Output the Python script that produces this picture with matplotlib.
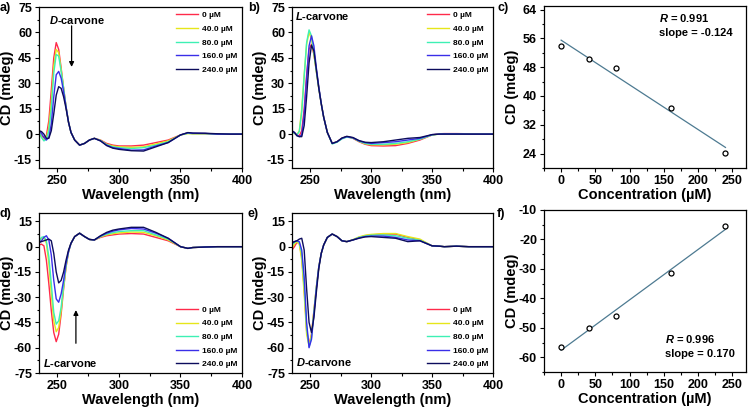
import numpy as np
import matplotlib
matplotlib.use('Agg')
import matplotlib.pyplot as plt
from matplotlib.ticker import MultipleLocator

plt.rcParams['font.family'] = ['Liberation Sans', 'DejaVu Sans']
plt.rcParams['font.weight'] = 'bold'
plt.rcParams['axes.unicode_minus'] = False
plt.rcParams['mathtext.fontset'] = 'custom'
plt.rcParams['mathtext.it'] = 'Liberation Sans:bold:italic'
plt.rcParams['mathtext.rm'] = 'Liberation Sans:bold'

# wavelength grid (nm)
wl = [235, 237, 239, 241, 243, 245, 247, 249, 251, 253, 255, 257, 259, 261, 264, 268,
      272, 276, 280, 285, 290, 295, 300, 310, 320, 330, 340, 350, 356, 360, 370, 380, 390, 400]

labels = ['0 µM', '40.0 µM', '80.0 µM', '160.0 µM', '240.0 µM']
colors = ['#ff2a4a', '#e6e61a', '#3ef0b4', '#3a2ee8', '#0c0c5c']

# panel a: D-carvone
a_0 = [1.5, -1, -2, -1, 8, 26, 45, 54, 50, 39, 27, 16, 7, 1, -3.5, -6.5, -5.5, -3.5, -2.5, -3.5, -5.5, -6.5, -7, -7, -6.5, -5, -3.5, -0.5, 0.6, 0.3, 0.3, 0, 0, 0]
a_40 = [1.5, -1.5, -3.5, -2.5, 4, 19, 40, 50, 48, 38, 27, 16, 7, 1, -3.5, -6.5, -5.5, -3.5, -2.5, -3.7, -6, -7, -7.5, -7.8, -7.5, -5.8, -4, -0.5, 0.3, 0.2, 0.2, 0, 0, 0]
a_80 = [1.5, -2, -4, -3, 2, 15, 36, 47, 46, 37, 27, 16, 7, 1, -3.5, -6.5, -5.5, -3.5, -2.5, -3.8, -6.2, -7.5, -8, -8.5, -8, -6.5, -4.5, -0.5, 0.5, 0.3, 0.3, 0, 0, 0]
a_160 = [2, 0.5, -2, -3.5, -2, 6, 22, 35, 37, 33, 25, 16, 7, 1, -3.5, -6.5, -5.5, -3.5, -2.5, -4, -6.5, -8, -8.5, -9.5, -9.3, -7, -5, -0.5, 0.8, 0.5, 0.4, 0, 0, 0]
a_240 = [2, 1.5, 0, -2.5, -2.5, 2, 12, 23, 28, 27, 22, 15, 7, 1, -3.5, -6.5, -5.5, -3.5, -2.5, -4, -6.8, -8.3, -9, -9.8, -10, -7.5, -5, -0.5, 0.9, 0.6, 0.5, 0.2, 0, 0]

# panel b: L-carvone
b_0 = [1, 0.5, -0.5, -1, 2, 15, 35, 50, 53, 47, 37, 27, 18, 10, 1, -5.5, -4.5, -2.5, -1.5, -2.5, -4.5, -6, -6.8, -7, -6.8, -5.5, -3.5, -0.5, 0.2, 0.3, 0.3, 0.2, 0, 0]
b_40 = [1, 0.5, -0.5, 2, 15, 35, 53, 60, 56, 47, 37, 27, 18, 10, 1, -5.5, -4.5, -2.5, -1.5, -2.3, -4.3, -5.7, -6.3, -6.3, -6, -5, -3, -0.5, 0, 0.2, 0.2, 0.1, 0, 0]
b_80 = [1, 0.5, -0.5, 1.5, 13, 34, 54, 61.5, 58, 48, 37, 27, 18, 10, 1, -5.8, -4.8, -2.8, -1.8, -2.3, -4.2, -5.5, -6, -6, -5.5, -4.5, -3, -0.5, 0, 0.1, 0.1, 0, 0, 0]
b_160 = [1.5, 1, -0.5, -1.5, -0.5, 12, 33, 52, 58, 52, 39, 28, 18, 10, 1, -5.5, -4.5, -2.5, -1.5, -2.2, -4, -5, -5.5, -5, -4.5, -3.5, -2.5, -0.3, 0, 0.1, 0.1, 0, 0, 0]
b_240 = [2, 1, -1, -1.5, -1.5, 5, 22, 42, 52.5, 49, 38, 27, 18, 10, 1, -5.5, -4.5, -2.3, -1.3, -2, -3.8, -4.8, -5, -4.5, -3.5, -2.5, -2, -0.3, 0, 0, 0, 0, 0, 0]

# panel d: L-carvone
d_0 = [1, 1.5, 0.5, -8, -22, -38, -51, -56.4, -52, -40, -25, -12, -3, 2, 6, 8, 6, 4.3, 4, 5.5, 6.5, 7, 7.5, 7.8, 7.5, 5.5, 3.5, 0, -1, -0.5, -0.2, 0, 0, 0]
d_40 = [3, 5, 5.5, 2, -10, -28, -44, -50.5, -48, -38, -24, -12, -3, 2, 6, 8, 6, 4.3, 4, 5.8, 7, 7.7, 8.2, 8.7, 8.5, 6.5, 4, 0, -1, -0.5, -0.2, 0, 0, 0]
d_80 = [3, 5.5, 6, 3.5, -6, -22, -39, -46, -44, -36, -23, -11, -3, 2, 6, 8, 6, 4.3, 4, 6, 7.5, 8.3, 9, 9.5, 9.5, 7, 4.5, 0, -1, -0.5, -0.2, 0, 0, 0]
d_160 = [2.5, 3.5, 5.5, 6.5, 4, -5, -20, -31, -33, -28, -20, -10, -3, 2, 6, 8, 6, 4.3, 4, 6.3, 8, 9.2, 10, 10.8, 10.5, 8, 5, 0, -1, -0.5, -0.2, 0, 0, 0]
d_240 = [2.5, 3, 3.5, 4, 4.5, 3.5, -4, -15, -21.5, -20, -15, -8, -2, 2, 6, 8, 6, 4.3, 4, 6.5, 8.5, 9.8, 10.5, 11.5, 11.5, 8.5, 5, 0, -1, -0.5, -0.2, 0, 0, 0]

# panel e: D-carvone
e_0 = [-2, 0, 2.5, 2, -6, -25, -50, -58, -52, -38, -24, -12, -4, 1, 5.5, 7.5, 6, 3.5, 3, 4, 5.5, 6.5, 7, 7.5, 7.5, 5.5, 4, 0.5, 0.3, 0, 0.3, 0, 0, 0]
e_40 = [-1, 1.5, 3, 1.5, -8, -28, -52, -59, -52, -38, -24, -12, -4, 1, 5.5, 7.5, 6, 3.5, 3, 4.2, 5.8, 6.8, 7.3, 7.8, 7.8, 6, 4.5, 0.5, 0.3, 0, 0.3, 0, 0, 0]
e_80 = [1, 2.5, 3.5, 2.5, -4, -22, -48, -59.5, -54, -39, -24, -12, -4, 1, 5.5, 7.5, 6, 3.5, 3, 4, 5.5, 6.3, 6.8, 7, 6.5, 5, 3.8, 0.5, 0.3, 0, 0.3, 0, 0, 0]
e_160 = [2, 3, 3.5, 3, -2, -18, -45, -60, -55, -40, -25, -12, -4, 1, 5.5, 7.5, 6, 3.5, 3, 4, 5.2, 6, 6.3, 6.3, 5.5, 4, 3.5, 0.5, 0.3, 0, 0.3, 0, 0, 0]
e_240 = [2.5, 3, 3.5, 4.5, 5, -2, -25, -45, -51, -42, -27, -13, -4, 1, 5.5, 7.5, 6, 3.5, 3, 4, 5, 5.8, 6, 5.5, 5, 3, 3.5, 0.5, 0.3, 0, 0.3, 0, 0, 0]

# calibration data
conc = [0, 40, 80, 160, 240]
c_cd = [54.0, 50.2, 47.7, 36.8, 24.3]
f_cd = [-56.4, -50.2, -45.9, -31.3, -15.3]

W, H = 748, 408
fig = plt.figure(figsize=(W / 100, H / 100), dpi=100)

def box(l, t, r, b):
    return [l / W, 1 - b / H, (r - l) / W, (b - t) / H]

ax_a = fig.add_axes(box(39, 7, 242, 168))
ax_b = fig.add_axes(box(292, 7, 493, 168))
ax_c = fig.add_axes(box(544, 6, 746, 168))
ax_d = fig.add_axes(box(39, 213, 242, 373))
ax_e = fig.add_axes(box(292, 213, 493, 373))
ax_f = fig.add_axes(box(544, 210, 746, 372))

TICK = 9
LAB = 10.5

def style(ax):
    ax.tick_params(which='both', direction='out', labelsize=TICK, width=0.8, pad=2)
    ax.tick_params(which='major', length=3)
    ax.tick_params(which='minor', length=1.8)
    for s in ax.spines.values():
        s.set_linewidth(0.9)
    ax.yaxis.set_label_coords(-0.122, 0.5)

def spectra(ax, series, ylim, legloc):
    for ys, c, lab in zip(series, colors, labels):
        ax.plot(wl, ys, color=c, lw=1.0, label=lab)
    ax.set_xlim(235, 400)
    ax.set_ylim(*ylim)
    ax.xaxis.set_major_locator(MultipleLocator(50))
    ax.xaxis.set_minor_locator(MultipleLocator(25))
    ax.yaxis.set_major_locator(MultipleLocator(15))
    ax.yaxis.set_minor_locator(MultipleLocator(7.5))
    ax.set_xlabel('Wavelength (nm)', fontsize=LAB, fontweight='bold', labelpad=1)
    ax.set_ylabel('CD (mdeg)', fontsize=LAB, fontweight='bold')
    ax.legend(loc=legloc, frameon=False, fontsize=6, handlelength=2.6,
              labelspacing=0.7, borderaxespad=0.15, handletextpad=0.5)
    style(ax)

spectra(ax_a, [a_0, a_40, a_80, a_160, a_240], (-20, 75), 'upper right')
spectra(ax_b, [b_0, b_40, b_80, b_160, b_240], (-20, 75), 'upper right')
spectra(ax_d, [d_0, d_40, d_80, d_160, d_240], (-75, 20), 'lower right')
spectra(ax_e, [e_0, e_40, e_80, e_160, e_240], (-75, 20), 'lower right')

ax_a.text(243, 67.5, r'$\mathit{D}$-carvone', fontsize=8, va='center')
ax_b.text(237.7, 69.5, r'$\mathit{L}$-carvone', fontsize=8, va='center')
ax_d.text(238.5, -69, r'$\mathit{L}$-carvone', fontsize=8, va='center')
ax_e.text(238.5, -68.5, r'$\mathit{D}$-carvone', fontsize=8, va='center')

arrow = dict(arrowstyle='-|>', color='k', lw=0.9, mutation_scale=7)
ax_a.annotate('', xy=(261.5, 38), xytext=(261.5, 65.5), arrowprops=arrow)
ax_d.annotate('', xy=(265, -36), xytext=(265, -59), arrowprops=arrow)

def calib(ax, vals, ylim, step, r, slope, tx, ty):
    k, b0 = np.polyfit(conc, vals, 1)
    xs = np.array([conc[0], conc[-1]])
    ax.plot(xs, k * xs + b0, color='#4d7a91', lw=0.9)
    ax.plot(conc, vals, 'o', mfc='white', mec='black', mew=0.9, ms=3.6)
    ax.set_xlim(-25, 270)
    ax.set_ylim(*ylim)
    ax.xaxis.set_major_locator(MultipleLocator(50))
    ax.xaxis.set_minor_locator(MultipleLocator(25))
    ax.yaxis.set_major_locator(MultipleLocator(step))
    ax.yaxis.set_minor_locator(MultipleLocator(step / 2))
    ax.set_xlabel('Concentration (µM)', fontsize=LAB, fontweight='bold', labelpad=1)
    ax.set_ylabel('CD (mdeg)', fontsize=LAB, fontweight='bold')
    ax.text(tx, ty, r'$\mathit{R}$ = ' + r, transform=ax.transAxes, fontsize=8, va='center')
    ax.text(tx, ty - 0.093, 'slope = ' + slope, transform=ax.transAxes, fontsize=8, va='center')
    style(ax)

calib(ax_c, c_cd, (20, 65), 8, '0.991', '-0.124', 0.57, 0.924)
calib(ax_f, f_cd, (-65, -10), 10, '0.996', '0.170', 0.6, 0.204)

for lab, x, y in [('a)', 0, 8), ('b)', 248, 8), ('c)', 497, 8),
                  ('d)', 0, 214), ('e)', 248, 214), ('f)', 497, 214)]:
    fig.text(x / W, 1 - y / H, lab, fontsize=9, fontweight='bold', va='center')

fig.savefig('out.png', dpi=100)
